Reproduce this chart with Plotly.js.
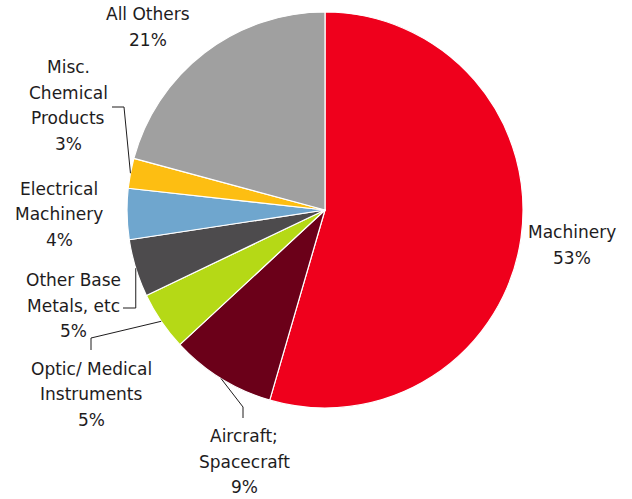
<!DOCTYPE html>
<html>
<head>
<meta charset="utf-8">
<script src="https://cdn.plot.ly/plotly-3.0.1.min.js"></script>
<style>html,body{margin:0;padding:0;background:#fff}#chart{width:632px;height:499px}</style>
</head>
<body>
<div id="chart"></div>
<script>
// ---- data ----
var categories = ["Machinery", "Aircraft; Spacecraft", "Optic/ Medical Instruments", "Other Base Metals, etc", "Electrical Machinery", "Misc. Chemical Products", "All Others"];
var shares = [54.5, 8.6, 4.8, 4.7, 4.15, 2.45, 20.8];
var pctLabels = ["53%", "9%", "5%", "5%", "4%", "3%", "21%"];
var labelLines = [
  ["Machinery"],
  ["Aircraft;", "Spacecraft"],
  ["Optic/ Medical", "Instruments"],
  ["Other Base", "Metals, etc"],
  ["Electrical", "Machinery"],
  ["Misc.", "Chemical", "Products"],
  ["All Others"]
];
var colors = ["#EF001C", "#6B0019", "#B5D916", "#4D4B4D", "#6FA6CE", "#FDBE12", "#A0A0A0"];

// ---- layout config (pixels) ----
var W = 632, H = 499;
var CX = 325, CY = 210, R = 198;
// label block: centre x, centre y of first line
var labelPos = [[572, 232], [244, 436], [91, 368.5], [73, 280], [59, 188.5], [68, 67], [148, 14]];
var lineGap = 25.6;
// leader lines: elbow/end points after the slice edge point
var leaders = {
  5: [[124, 107], [112, 107]],
  3: [[null, 308], [123, 308]],
  2: [[91, 338], [91, 350]],
  1: [[243, 407], [243, 418]]
};

function px(x) { return x / W; }
function py(y) { return 1 - y / H; }

var total = shares.reduce(function (a, b) { return a + b; }, 0);
function edgePoint(i) {
  var cum = 0;
  for (var k = 0; k < i; k++) cum += shares[k];
  var mid = (cum + shares[i] / 2) / total * 2 * Math.PI;
  return [CX + R * Math.sin(mid), CY - R * Math.cos(mid)];
}

var annotations = [];
var font = {family: "DejaVu Sans, sans-serif", size: 17, color: "#1e1c1d"};
labelLines.forEach(function (lines, i) {
  var all = lines.concat([pctLabels[i]]);
  all.forEach(function (t, j) {
    annotations.push({
      text: t, showarrow: false, xref: "paper", yref: "paper",
      x: px(labelPos[i][0]), y: py(labelPos[i][1] + j * lineGap),
      xanchor: "center", yanchor: "middle", font: font
    });
  });
});

var shapes = [];
Object.keys(leaders).forEach(function (key) {
  var i = +key;
  var p0 = edgePoint(i);
  var pts = [p0];
  leaders[key].forEach(function (p) { pts.push([p[0] === null ? p0[0] : p[0], p[1]]); });
  var d = pts.map(function (p, k) { return (k ? "L" : "M") + px(p[0]) + "," + py(p[1]); }).join(" ");
  shapes.push({type: "path", xref: "paper", yref: "paper", path: d, line: {color: "#1e1c1d", width: 1}});
});

var trace = {
  type: "pie",
  labels: categories,
  values: shares,
  sort: false,
  direction: "clockwise",
  rotation: 0,
  textinfo: "none",
  hoverinfo: "label+percent",
  marker: {colors: colors, line: {color: "#ffffff", width: 1.2}},
  domain: {x: [px(CX - R), px(CX + R)], y: [py(CY + R), py(CY - R)]}
};

Plotly.newPlot("chart", [trace], {
  width: W, height: H,
  margin: {l: 0, r: 0, t: 0, b: 0},
  showlegend: false,
  paper_bgcolor: "#ffffff",
  annotations: annotations,
  shapes: shapes
}, {displayModeBar: false, staticPlot: true});
</script>
</body>
</html>
